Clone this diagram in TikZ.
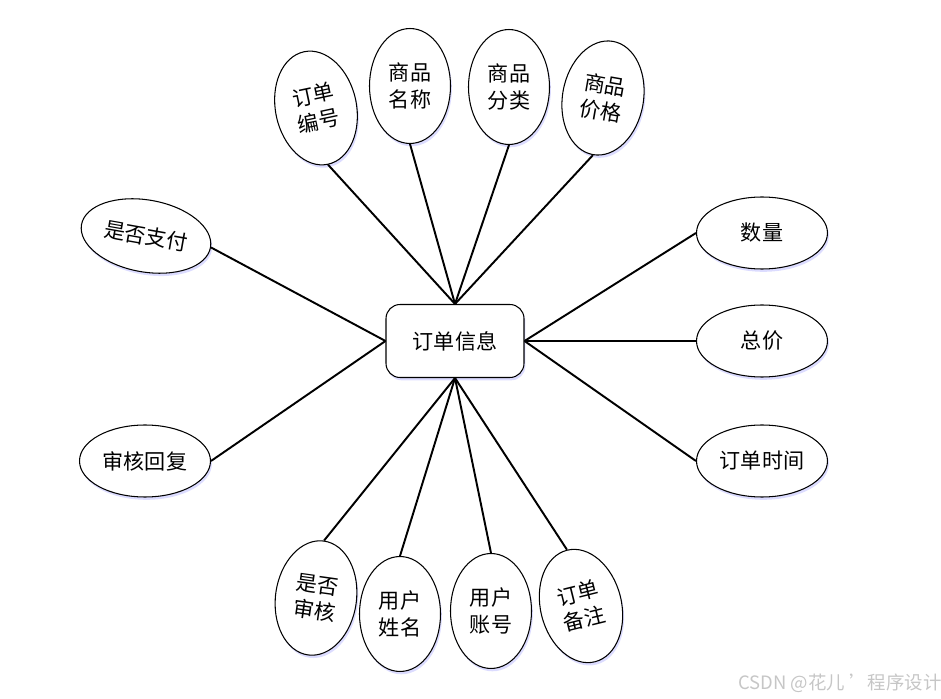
\documentclass[tikz,border=0pt]{standalone}
\usepackage{fontspec}
\setmainfont{Noto Sans CJK SC}
\usetikzlibrary{shapes.geometric,shadows}
\begin{document}
\begin{tikzpicture}[x=0.02cm, y=-0.02cm, font=\fontsize{12}{15}\selectfont,
    shade/.style={drop shadow={fill=blue!30, opacity=0.45, shadow xshift=0.8pt, shadow yshift=-1.6pt}},
    attr/.style={ellipse, draw, line width=0.6pt, fill=white, inner sep=0pt, align=center, shade},
    tall/.style={attr, minimum width=1.62cm, minimum height=2.3cm},
    wide/.style={attr, minimum width=2.62cm, minimum height=1.44cm},
    link/.style={line width=1.1pt}]
  \useasboundingbox (0,0) rectangle (941,699);
  \node[draw, rounded corners=8pt, line width=0.6pt, fill=white, minimum width=2.76cm, minimum height=1.46cm, shade] (order) at (455,341) {订单信息};
  \node[tall, rotate=12] (ono) at (316,108) {订单\\编号};
  \node[tall] (gname) at (410,86) {商品\\名称};
  \node[tall] (gtype) at (509,87) {商品\\分类};
  \node[tall, rotate=-10] (gprice) at (603,98) {商品\\价格};
  \node[wide, rotate=-10] (paid) at (146,236) {是否支付};
  \node[wide] (reply) at (145,461) {审核回复};
  \node[wide] (num) at (762,233) {数量};
  \node[wide] (total) at (762,341) {总价};
  \node[wide] (otime) at (762,461) {订单时间};
  \node[tall, rotate=-8] (checked) at (316,598) {是否\\审核};
  \node[tall] (uname) at (400,614) {用户\\姓名};
  \node[tall] (uacc) at (491,611) {用户\\账号};
  \node[tall, rotate=14] (note) at (581,606) {订单\\备注};
  \draw[link] (order.north) -- (ono.south);
  \draw[link] (order.north) -- (gname.south);
  \draw[link] (order.north) -- (gtype.south);
  \draw[link] (order.north) -- (gprice.south);
  \draw[link] (order.west) -- (paid.east);
  \draw[link] (order.west) -- (reply.east);
  \draw[link] (order.east) -- (num.west);
  \draw[link] (order.east) -- (total.west);
  \draw[link] (order.east) -- (otime.west);
  \draw[link] (order.south) -- (checked.north);
  \draw[link] (order.south) -- (uname.north);
  \draw[link] (order.south) -- (uacc.north);
  \draw[link] (order.south) -- (note.north);
  \node[text=gray!45, font=\fontsize{10.5}{12}\selectfont] (mark) at (840,683) {CSDN @花儿 ’程序设计};
\end{tikzpicture}
\end{document}
